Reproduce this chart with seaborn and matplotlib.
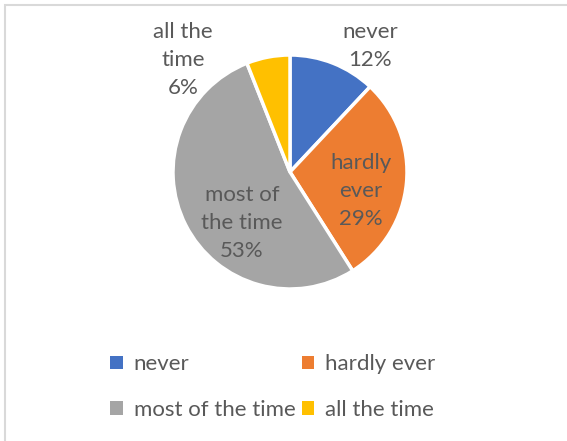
import matplotlib
matplotlib.use("Agg")
import matplotlib.pyplot as plt
import matplotlib.patches as mpatches
import seaborn as sns

categories = ["never", "hardly ever", "most of the time", "all the time"]
values = [12, 29, 53, 6]
label_texts = ["never\n12%", "hardly\never\n29%", "most of\nthe time\n53%", "all the\ntime\n6%"]
colors = ["#4472C4", "#ED7D31", "#A5A5A5", "#FFC000"]

sns.set_theme(style="white")
plt.rcParams['font.family'] = ['Lato', 'DejaVu Sans']

W, H = 567, 441
fig = plt.figure(figsize=(W / 100, H / 100), dpi=100)
fig.patch.set_facecolor("white")

# border (top/left visible, right/bottom cut off)
fig.add_artist(mpatches.Rectangle((5 / W, -0.1), 1.2, 1 - 5 / H + 0.1,
                                  transform=fig.transFigure, fill=False,
                                  edgecolor="#D9D9D9", linewidth=1.5))

cx, cy, R = 290, 172, 117
ax = fig.add_axes([(cx - R) / W, (H - cy - R) / H, 2 * R / W, 2 * R / H])
wedges, _ = ax.pie(values, colors=colors, startangle=90, counterclock=False,
                   radius=1, wedgeprops=dict(edgecolor="white", linewidth=2.5))
ax.set_xlim(-1, 1)
ax.set_ylim(-1, 1)
ax.axis("off")

# label centers in pixels
label_px = [(370, 46), (361, 191), (242, 223), (183, 60)]
for txt, (px, py) in zip(label_texts, label_px):
    ax.text((px - cx) / R, (cy - py) / R, txt, ha="center", va="center",
            fontsize=16, color="#595959", linespacing=1.5, clip_on=False)

# legend filled row by row (matplotlib fills columns first)
order = [0, 2, 1, 3]
handles = [mpatches.Patch(facecolor=colors[i], edgecolor="none") for i in order]
labels = [categories[i] for i in order]
leg = fig.legend(handles, labels, ncol=2, loc="center",
                 bbox_to_anchor=(273 / W, 1 - 387 / H), frameon=False,
                 fontsize=16, handlelength=0.55, handleheight=0.55,
                 handletextpad=0.5, columnspacing=0.3, labelspacing=1.15,
                 labelcolor="#595959")

fig.savefig("out.png", dpi=100)
